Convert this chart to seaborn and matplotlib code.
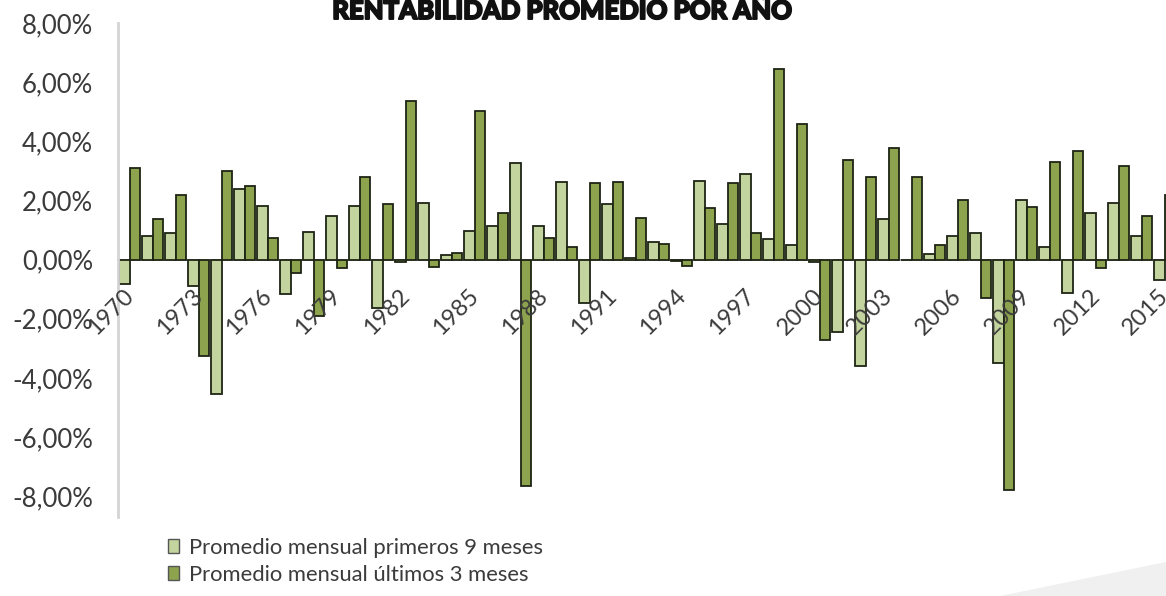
import matplotlib
matplotlib.use("Agg")
import matplotlib.pyplot as plt
import matplotlib.patheffects as pe
from matplotlib.patches import Polygon, Patch
from matplotlib.ticker import FuncFormatter
from matplotlib.transforms import ScaledTranslation
import seaborn as sns
import pandas as pd

# Average monthly return per year, in percent
years = list(range(1970, 2016))
first_9_months = [
    -0.81, 0.79, 0.90, -0.90, -4.53, 2.40, 1.81, -1.17, 0.95, 1.46,
    1.81, -1.63, -0.09, 1.91, 0.17, 0.98, 1.15, 3.28, 1.14, 2.64,
    -1.46, 1.88, 0.05, 0.60, -0.05, 2.67, 1.22, 2.88, 0.70, 0.48,
    -0.09, -2.45, -3.60, 1.39, 0.00, 0.20, 0.79, 0.90, -3.50, 2.00,
    0.43, -1.13, 1.58, 1.91, 0.79, -0.68,
]
last_3_months = [
    3.10, 1.39, 2.20, -3.27, 2.98, 2.49, 0.74, -0.45, -1.90, -0.28,
    2.79, 1.88, 5.37, -0.25, 0.24, 5.03, 1.58, -7.64, 0.74, 0.42,
    2.60, 2.64, 1.41, 0.53, -0.20, 1.76, 2.60, 0.90, 6.44, 4.57,
    -2.70, 3.36, 2.78, 3.76, 2.78, 0.48, 2.00, -1.30, -7.80, 1.77,
    3.29, 3.66, -0.28, 3.18, 1.46, 2.20,
]
series_names = ["Promedio mensual primeros 9 meses",
                "Promedio mensual últimos 3 meses"]
tick_years = list(range(1970, 2016, 3))
y_ticks = [-8, -6, -4, -2, 0, 2, 4, 6, 8]
title = "RENTABILIDAD PROMEDIO POR AÑO"

light_green = "#c4d49e"
dark_green = "#8da34e"
edge = "#1e2414"
text_grey = "#3b3b3b"

df = pd.DataFrame({
    "year": [str(y) for y in years] * 2,
    "serie": [series_names[0]] * len(years) + [series_names[1]] * len(years),
    "value": first_9_months + last_3_months,
})

sns.set_theme(style="white")
plt.rcParams["font.family"] = ["Lato", "DejaVu Sans"]

fig = plt.figure(figsize=(11.66, 5.96), dpi=100)
fig.patch.set_facecolor("white")

# decorative grey wedge in the lower right corner
fig.patches.append(Polygon([(1000 / 1166, 0), (1, 34 / 596), (1, 0)],
                           closed=True, transform=fig.transFigure,
                           facecolor="#f0f0f0", edgecolor="none", zorder=0))

ax = fig.add_axes([118 / 1166, 79 / 596, 1058 / 1166, 494 / 596])
ax.set_facecolor("none")

sns.barplot(data=df, x="year", y="value", hue="serie",
            order=[str(y) for y in years], hue_order=series_names,
            palette=[light_green, dark_green], width=0.87,
            edgecolor=edge, linewidth=1.3, saturation=1,
            legend=False, ax=ax)

ax.set_xlim(-0.5, len(years) - 0.5)
ax.set_ylim(-8.7, 8.0)
ax.set_xlabel("")
ax.set_ylabel("")

# y axis
ax.set_yticks(y_ticks)
ax.yaxis.set_major_formatter(FuncFormatter(lambda v, p: f"{v:.2f}".replace(".", ",") + "%"))
ax.tick_params(axis="y", length=0, pad=18, labelsize=18.5, labelcolor=text_grey)

# category axis sits on the zero line
ax.spines["bottom"].set_position(("data", 0))
ax.spines["bottom"].set_color("#9a9a9a")
ax.spines["bottom"].set_linewidth(1.2)
ax.spines["bottom"].set_zorder(0.5)
ax.spines["left"].set_color("#d4d4d4")
ax.spines["left"].set_linewidth(2)
ax.spines["top"].set_visible(False)
ax.spines["right"].set_visible(False)

# year labels, rotated and hung just below the zero line
ax.set_xticks([])
label_offset = ScaledTranslation(0.01, -0.33, fig.dpi_scale_trans)
for y in tick_years:
    ax.text(years.index(y), 0, str(y), transform=ax.transData + label_offset,
            rotation=45, ha="right", va="center", rotation_mode="anchor",
            fontsize=17, color=text_grey, clip_on=False)

fig.text(563 / 1166, 1 - 19 / 596, title, ha="center", va="baseline",
         fontsize=18.5, fontweight="black", color="#111111",
         path_effects=[pe.withStroke(linewidth=1.4, foreground="#111111")])

handles = [Patch(facecolor=light_green, edgecolor="#555555", linewidth=1),
           Patch(facecolor=dark_green, edgecolor="#555555", linewidth=1)]
fig.legend(handles, series_names, loc="upper left",
           bbox_to_anchor=(168 / 1166, 1 - 538 / 596), frameon=False,
           borderpad=0, borderaxespad=0,
           fontsize=15.8, handlelength=0.5, handleheight=0.6,
           handletextpad=0.45, labelspacing=0.3, labelcolor=text_grey)

fig.savefig("out.png", dpi=100, facecolor="white")
